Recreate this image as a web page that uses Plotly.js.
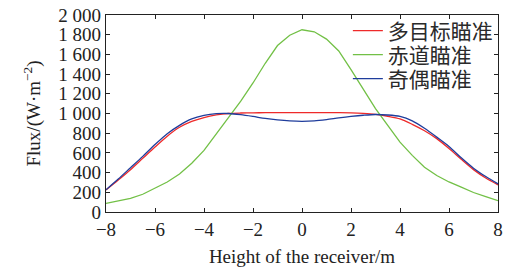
<!DOCTYPE html>
<html>
<head>
<meta charset="utf-8">
<script src="https://cdn.plot.ly/plotly-3.0.1.min.js"></script>
<style>html,body{margin:0;padding:0;background:#fff;}#chart{width:507px;height:269px;}</style>
</head>
<body>
<div id="chart"></div>
<script>
const xVals = [-8,-7.5,-7,-6.5,-6,-5.5,-5,-4.5,-4,-3.5,-3,-2.5,-2,-1.5,-1,-0.5,0,0.5,1,1.5,2,2.5,3,3.5,4,4.5,5,5.5,6,6.5,7,7.5,8];
const multiTarget = [224,325,430,545,660,770,860,920,959,985,1000,1005,1007,1008,1008,1008,1008,1008,1008,1008,1007,1002,992,972,945,890,825,745,645,535,430,345,276];
const equatorial = [88,110,138,180,240,305,385,495,625,790,950,1125,1310,1510,1690,1795,1850,1830,1755,1635,1445,1245,1050,880,710,575,455,370,305,252,198,155,115];
const oddEven = [226,335,450,565,685,795,880,945,980,998,1000,988,970,950,935,925,921,925,938,955,970,982,990,985,970,925,850,760,665,550,445,360,286];
const seriesNames = ['多目标瞄准','赤道瞄准','奇偶瞄准'];
const yTickVals = [0,200,400,600,800,1000,1200,1400,1600,1800,2000];
const yTickText = ['0','200','400','600','800','1 000','1 200','1 400','1 600','1 800','2 000'];
const xTickVals = [-8,-6,-4,-2,0,2,4,6,8];

const serif = 'Liberation Serif, Times New Roman, serif';
const traces = [
  {x: xVals, y: multiTarget, name: seriesNames[0], legend: 'legend', mode: 'lines', line: {color: '#ee2a2a', width: 1.3, shape: 'spline', smoothing: 0.8}},
  {x: xVals, y: equatorial, name: seriesNames[1], legend: 'legend2', mode: 'lines', line: {color: '#72c046', width: 1.3}},
  {x: xVals, y: oddEven, name: seriesNames[2], legend: 'legend3', mode: 'lines', line: {color: '#1f3d9c', width: 1.3, shape: 'spline', smoothing: 0.8}}
];
function leg(yc) {
  return {x: 0.617, xanchor: 'left', y: yc, yanchor: 'middle', bgcolor: 'rgba(0,0,0,0)', borderwidth: 0,
          font: {family: 'Noto Sans CJK SC', size: 21, color: '#2a2a2a'}};
}
const layout = {
  width: 507, height: 269,
  margin: {l: 106, r: 9, t: 15, b: 57},
  paper_bgcolor: '#fff', plot_bgcolor: '#fff',
  showlegend: true,
  legend: leg(0.919),
  legend2: leg(0.797),
  legend3: leg(0.675),
  xaxis: {range: [-8, 8], tickvals: xTickVals, ticks: 'inside', ticklen: 4, tickcolor: '#222',
          showline: true, linecolor: '#222', linewidth: 1.3, mirror: 'ticks', showgrid: false, zeroline: false,
          tickfont: {family: serif, size: 19, color: '#222'},
          title: {text: 'Height of the receiver/m', font: {family: serif, size: 19, color: '#222'}, standoff: 10}},
  yaxis: {range: [0, 2000], tickvals: yTickVals, ticktext: yTickText, ticks: 'inside', ticklen: 4, tickcolor: '#222',
          showline: true, linecolor: '#222', linewidth: 1.3, mirror: 'ticks', showgrid: false, zeroline: false,
          tickfont: {family: serif, size: 19, color: '#222'},
          title: {text: 'Flux/(W·m<sup>−2</sup>)', font: {family: serif, size: 19, color: '#222'}, standoff: 12}}
};
Plotly.newPlot('chart', traces, layout, {displayModeBar: false, staticPlot: true});
</script>
</body>
</html>
